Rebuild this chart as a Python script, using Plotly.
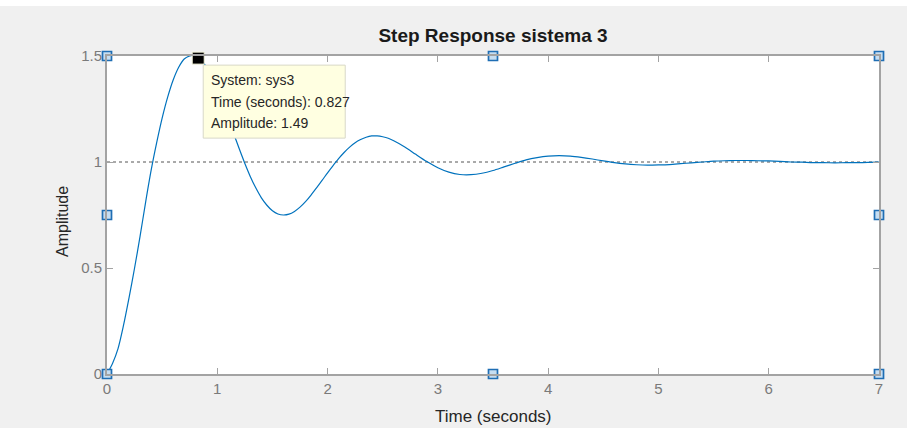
import plotly.graph_objects as go

# ---- data ----
time_s = [0.0, 0.05, 0.1, 0.15, 0.2, 0.25, 0.3, 0.35, 0.4, 0.45, 0.5, 0.55,
          0.6, 0.65, 0.7, 0.75, 0.8, 0.85, 0.9, 0.95, 1.0, 1.05, 1.1, 1.15,
          1.2, 1.25, 1.3, 1.35, 1.4, 1.45, 1.5, 1.55, 1.6, 1.65, 1.7, 1.75,
          1.8, 1.85, 1.9, 1.95, 2.0, 2.05, 2.1, 2.15, 2.2, 2.25, 2.3, 2.35,
          2.4, 2.45, 2.5, 2.55, 2.6, 2.7, 2.8, 2.9, 3.0, 3.1, 3.2, 3.3, 3.4,
          3.5, 3.6, 3.7, 3.8, 3.9, 4.0, 4.1, 4.2, 4.3, 4.4, 4.5, 4.6, 4.7,
          4.8, 4.9, 5.0, 5.1, 5.2, 5.3, 5.4, 5.5, 5.6, 5.7, 5.8, 5.9, 6.0,
          6.1, 6.2, 6.3, 6.4, 6.5, 6.6, 6.7, 6.8, 6.9, 7.0]
amplitude = [0.0, 0.05, 0.12, 0.23, 0.36, 0.50, 0.65, 0.81, 0.96, 1.090,
             1.207, 1.306, 1.387, 1.447, 1.486, 1.500, 1.503, 1.485, 1.449,
             1.401, 1.342, 1.277, 1.201, 1.132, 1.061, 0.993, 0.931, 0.877,
             0.831, 0.796, 0.770, 0.755, 0.750, 0.754, 0.767, 0.787, 0.813,
             0.844, 0.878, 0.913, 0.949, 0.983, 1.016, 1.045, 1.070, 1.091,
             1.106, 1.117, 1.123, 1.123, 1.119, 1.112, 1.100, 1.071, 1.036,
             1.002, 0.973, 0.952, 0.941, 0.940, 0.947, 0.960, 0.977, 0.994,
             1.010, 1.021, 1.028, 1.030, 1.028, 1.022, 1.014, 1.005, 0.997,
             0.991, 0.987, 0.985, 0.986, 0.988, 0.992, 0.996, 1.000, 1.004,
             1.006, 1.007, 1.007, 1.006, 1.005, 1.003, 1.000, 0.999, 0.997,
             0.997, 0.996, 0.997, 0.997, 0.998, 0.999]
final_value = 1.0
x_ticks = [0, 1, 2, 3, 4, 5, 6, 7]
y_ticks = [0, 0.5, 1, 1.5]
y_tick_text = ["0", "0.5", "1", "1.5"]
x_range = [0, 7]
y_range = [0, 1.5]
tip_time = 0.827
tip_amp = 1.49
tip_lines = ["System: sys3", "Time (seconds): 0.827", "Amplitude: 1.49"]
title_text = "Step Response sistema 3"
x_title = "Time (seconds)"
y_title = "Amplitude"

FONT = "Liberation Sans, Arial, sans-serif"
AX = "#a3a3a3"
LBL = "#7a7a7a"

fig = go.Figure()

fig.add_trace(go.Scatter(x=time_s, y=amplitude, mode="lines",
                         line=dict(color="#0072BD", width=1.2, shape="spline", smoothing=0.8),
                         hoverinfo="skip", showlegend=False))

# selection handles (corners and mid-sides of the axes box)
xm = (x_range[0] + x_range[1]) / 2
ym = (y_range[0] + y_range[1]) / 2
hx = [x_range[0], x_range[0], x_range[0], xm, xm, x_range[1], x_range[1], x_range[1]]
hy = [y_range[0], ym, y_range[1], y_range[0], y_range[1], y_range[0], ym, y_range[1]]
fig.add_trace(go.Scatter(x=hx, y=hy, mode="markers", cliponaxis=False,
                         marker=dict(symbol="square", size=9, color="#c6def2",
                                     line=dict(color="#1f6eb4", width=1.7)),
                         hoverinfo="skip", showlegend=False))

# datatip marker
fig.add_trace(go.Scatter(x=[tip_time], y=[tip_amp], mode="markers", cliponaxis=False,
                         marker=dict(symbol="square", size=12, color="black",
                                     line=dict(color="#f5f5dc", width=1)),
                         hoverinfo="skip", showlegend=False))

shapes = [
    dict(type="line", xref="x", yref="y", x0=x_range[0], x1=x_range[1],
         y0=final_value, y1=final_value, line=dict(color="#555555", width=1, dash="dot"),
         layer="below"),
    dict(type="rect", xref="x", yref="y", xsizemode="pixel", ysizemode="pixel",
         xanchor=tip_time, yanchor=tip_amp, x0=5, x1=147, y0=-80, y1=-7,
         fillcolor="#ffffe1", line=dict(color="#d8d8c8", width=1), layer="above"),
    dict(type="rect", xref="paper", yref="paper", x0=-0.2, x1=1.2,
         y0=(374 - 6) / 318, y1=1.3, fillcolor="white", line=dict(width=0), layer="below"),
]

annotations = []
for i, t in enumerate(tip_lines):
    annotations.append(dict(x=tip_time, y=tip_amp, xref="x", yref="y", text=t,
                            showarrow=False, xanchor="left", yanchor="middle",
                            xshift=11, yshift=-22 - 21.5 * i,
                            font=dict(family=FONT, size=14, color="#262626")))
annotations.append(dict(x=0.5, y=-(416 - 374) / 318, xref="paper", yref="paper",
                        text=x_title, showarrow=False, xanchor="center", yanchor="middle",
                        font=dict(family=FONT, size=17, color="#262626")))
annotations.append(dict(x=(62 - 107) / 772, y=(374 - 222) / 318, xref="paper", yref="paper",
                        text=y_title, showarrow=False, textangle=-90,
                        xanchor="center", yanchor="middle",
                        font=dict(family=FONT, size=16, color="#262626")))

fig.update_layout(
    width=907, height=428,
    margin=dict(l=107, r=28, t=56, b=54),
    paper_bgcolor="#f0f0f0", plot_bgcolor="white",
    title=dict(text="<b>" + title_text + "</b>", x=493 / 907, xanchor="center",
               y=1 - 35 / 428, yanchor="middle", yref="container",
               font=dict(family=FONT, size=19, color="#1a1a1a")),
    shapes=shapes, annotations=annotations,
    xaxis=dict(range=x_range, tickvals=x_ticks, ticktext=[str(v) for v in x_ticks],
               showgrid=False, zeroline=False, showline=True, linecolor=AX, linewidth=2,
               mirror="ticks", ticks="inside", ticklen=6, tickcolor=AX, tickwidth=1,
               tickfont=dict(family=FONT, size=15, color=LBL), fixedrange=True),
    yaxis=dict(range=y_range, tickvals=y_ticks, ticktext=y_tick_text,
               showgrid=False, zeroline=False, showline=True, linecolor=AX, linewidth=2,
               mirror="ticks", ticks="inside", ticklen=6, tickcolor=AX, tickwidth=1,
               tickfont=dict(family=FONT, size=15, color=LBL), fixedrange=True),
)

fig.write_html("out.html", config={"displayModeBar": False},
               post_script="document.body.style.margin='0';document.body.style.overflow='hidden';")
